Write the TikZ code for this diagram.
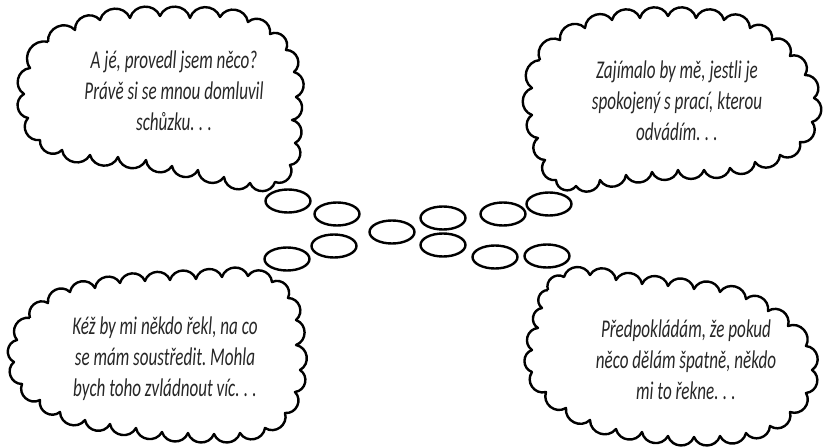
\documentclass[tikz,border=0pt]{standalone}
\usepackage{fontspec}
\setmainfont{Carlito}[FakeStretch=0.67]
\usetikzlibrary{shapes.geometric}
\frenchspacing
\tikzset{
  cloudln/.style={line width=2.4pt, line join=round},
  bp/.style={bend left=70, looseness=1.25},
  bub/.style={ellipse, draw, line width=2.4pt, minimum width=45pt, minimum height=23pt, inner sep=0pt},
  thought/.style={align=center, font=\fontsize{25.5}{31}\selectfont\itshape, text=black!85}
}
\newcommand\dotsx{.\,.\,.}
\begin{document}
\begin{tikzpicture}[x=1pt,y=-1pt]
\useasboundingbox (0,0) rectangle (825,447);
% top-left cloud
\draw[cloudln] (48,42) to[bp] (75,30) to[bp] (100,20) to[bp] (130,18) to[bp] (160,16) to[bp] (190,18) to[bp] (220,17) to[bp] (248,22) to[bp] (270,34) to[bp] (286,50) to[bp] (294,72) to[bp] (296,97) to[bp] (292,120) to[bp] (295,143) to[bp] (290,165) to[bp] (275,182) to[bp] (250,183) to[bp] (224,177) to[bp] (198,170) to[bp] (172,166) to[bp] (146,160) to[bp] (118,157) to[bp] (90,155) to[bp] (62,150) to[bp] (40,140) to[bp] (28,118) to[bp] (24,94) to[bp] (30,68) to[bp] (48,42);
% top-right cloud
\draw[cloudln] (540,60) to[bp] (560,40) to[bp] (585,28) to[bp] (612,20) to[bp] (640,18) to[bp] (668,16) to[bp] (696,18) to[bp] (724,20) to[bp] (750,28) to[bp] (772,40) to[bp] (790,56) to[bp] (805,75) to[bp] (814,98) to[bp] (812,122) to[bp] (800,142) to[bp] (780,155) to[bp] (755,162) to[bp] (730,168) to[bp] (704,170) to[bp] (678,170) to[bp] (652,172) to[bp] (626,175) to[bp] (600,180) to[bp] (576,186) to[bp] (556,180) to[bp] (545,160) to[bp] (538,138) to[bp] (532,115) to[bp] (532,88) to[bp] (540,60);
% bottom-left cloud
\draw[cloudln] (30,318) to[bp] (48,303) to[bp] (70,292) to[bp] (95,288) to[bp] (120,283) to[bp] (145,281) to[bp] (170,280) to[bp] (196,279) to[bp] (222,277) to[bp] (248,276) to[bp] (272,282) to[bp] (288,298) to[bp] (296,320) to[bp] (296,345) to[bp] (300,370) to[bp] (295,392) to[bp] (285,413) to[bp] (265,428) to[bp] (240,433) to[bp] (214,434) to[bp] (188,433) to[bp] (162,432) to[bp] (136,428) to[bp] (110,424) to[bp] (85,420) to[bp] (60,412) to[bp] (40,400) to[bp] (22,384) to[bp] (14,362) to[bp] (17,340) to[bp] (30,318);
% bottom-right cloud
\draw[cloudln] (548,290) to[bp] (564,277) to[bp] (590,275) to[bp] (616,280) to[bp] (642,284) to[bp] (668,286) to[bp] (694,289) to[bp] (720,292) to[bp] (746,299) to[bp] (768,311) to[bp] (788,326) to[bp] (806,346) to[bp] (812,370) to[bp] (806,393) to[bp] (790,412) to[bp] (770,426) to[bp] (746,433) to[bp] (720,436) to[bp] (694,437) to[bp] (668,436) to[bp] (642,432) to[bp] (616,429) to[bp] (590,420) to[bp] (566,408) to[bp] (546,392) to[bp] (532,372) to[bp] (532,350) to[bp] (538,328) to[bp] (542,308) to[bp] (548,290);
% texts
\node[thought] (tl) at (174,91) {A jé, provedl jsem něco?\\Právě si se mnou domluvil\\schůzku\dotsx};
\node[thought] (tr) at (677,101) {Zajímalo by mě, jestli je\\spokojený s prací, kterou\\odvádím\dotsx};
\node[thought] (bl) at (165,359) {Kéž by mi někdo řekl, na co\\se mám soustředit. Mohla\\bych toho zvládnout víc\dotsx};
\node[thought] (br) at (686,360) {Předpokládám, že pokud\\něco dělám špatně, někdo\\mi to řekne\dotsx};
% thought bubbles
\node[bub] (e1) at (288,201) {};
\node[bub] (e2) at (337,214) {};
\node[bub] (e3) at (392,232) {};
\node[bub] (e4) at (443,218) {};
\node[bub] (e5) at (503,214) {};
\node[bub] (e6) at (549,204) {};
\node[bub] (e7) at (443,245) {};
\node[bub] (e8) at (495,257) {};
\node[bub] (e9) at (547,256) {};
\node[bub] (e10) at (334,246) {};
\node[bub] (e11) at (287,259) {};
\end{tikzpicture}
\end{document}
